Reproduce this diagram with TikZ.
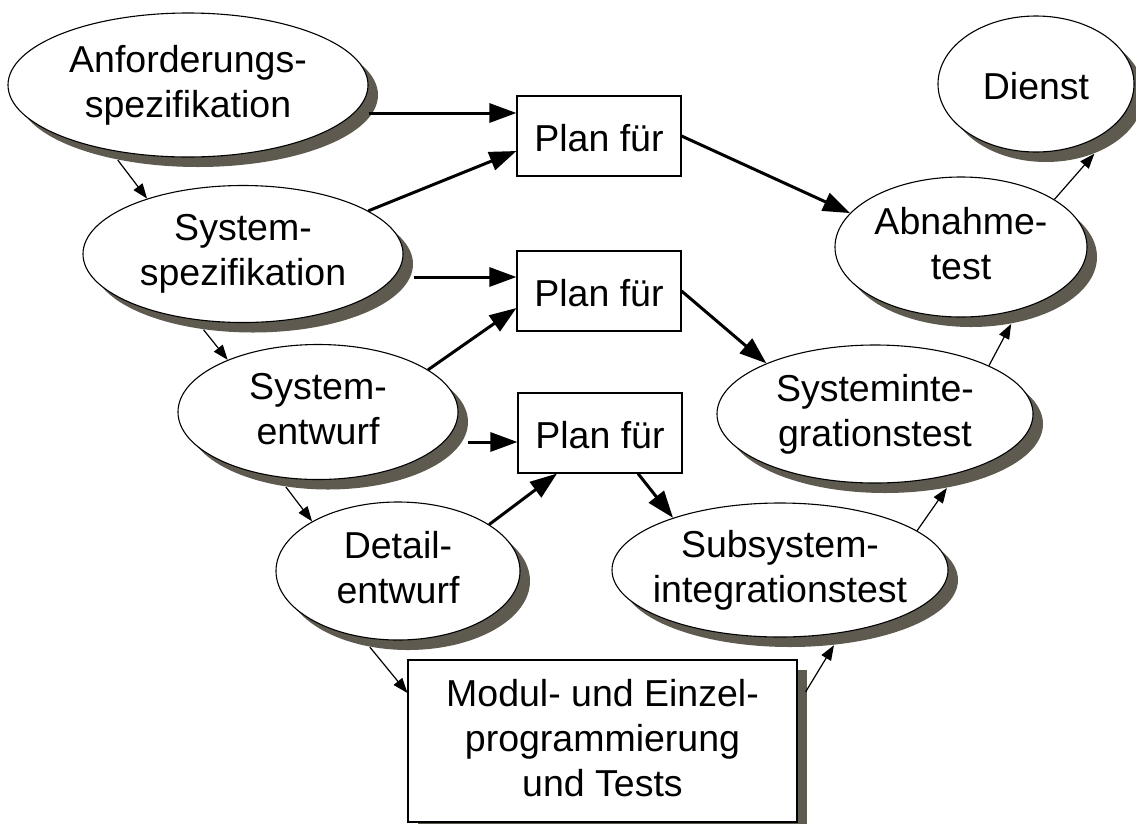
\documentclass[tikz,border=0pt]{standalone}
\usepackage{fontspec}
\setmainfont{Liberation Sans}
\usetikzlibrary{shapes.geometric,shadows,arrows.meta}
\definecolor{shadowc}{RGB}{95,90,80}
\newcommand\lnstrut{\rule[-7pt]{0pt}{45pt}}
\begin{document}
\begin{tikzpicture}[x=1pt,y=-1pt,
  lbl/.style={font=\fontsize{37.5}{45}\selectfont, align=center,
    execute at begin node=\lnstrut, execute at end node=\lnstrut},
  shad/.style={drop shadow={shadow xshift=10pt, shadow yshift=-10pt, fill=shadowc, opacity=1}},
  oval/.style={lbl, ellipse, draw, line width=1.1pt, fill=white,
    inner xsep=-80pt, inner ysep=-40pt, shad},
  plan/.style={lbl, rectangle, draw, line width=1.1pt, fill=white,
    minimum width=164pt, minimum height=80pt, inner sep=0pt},
  modbox/.style={lbl, rectangle, draw, line width=1.1pt, fill=white,
    minimum width=389pt, minimum height=162pt, inner sep=0pt, shad},
  thinarr/.style={line width=1.2pt, -{Triangle[length=15pt,width=11pt]}},
  thickarr/.style={line width=3pt, -{Triangle[length=27pt,width=19pt]}}
]
\useasboundingbox (0,0) rectangle (1136,823);

\node[oval, minimum width=360pt, minimum height=144pt] (anf) at (188,85) {Anforderungs-\\spezifikation};
\node[oval, minimum width=320pt, minimum height=137pt] (sysspec) at (243,254) {System-\\spezifikation};
\node[oval, minimum width=280pt, minimum height=135pt] (sysent) at (318,412) {System-\\entwurf};
\node[oval, minimum width=244pt, minimum height=138pt] (detail) at (398,571) {Detail-\\entwurf};
\node[modbox] (modul) at (602.5,741) {Modul- und Einzel-\\programmierung\\und Tests};
\node[oval, minimum width=336pt, minimum height=134pt] (sub) at (780,570) {Subsystem-\\integrationstest};
\node[oval, minimum width=316pt, minimum height=138pt] (sysint) at (875,414) {Systeminte-\\grationstest};
\node[oval, minimum width=252pt, minimum height=140pt] (abn) at (961,247) {Abnahme-\\test};
\node[oval, minimum width=196pt, minimum height=136pt] (dienst) at (1036,84) {Dienst};

\node[plan] (plan1) at (599,136) {Plan für};
\node[plan] (plan2) at (599,291) {Plan für};
\node[plan] (plan3) at (600,433) {Plan für};

% thin arrows (sequence)
\draw[thinarr] ([shift={(10pt,-10pt)}]anf.-141) -- (sysspec.150);
\draw[thinarr] ([shift={(10pt,-10pt)}]sysspec.-127) -- (sysent.150);
\draw[thinarr] ([shift={(10pt,-10pt)}]sysent.-123) -- (detail.150);
\draw[thinarr] ([shift={(10pt,-10pt)}]detail.-120) -- ([yshift=48pt]modul.west);
\draw[thinarr] ([shift={(8pt,49pt)}]modul.east) -- ([shift={(10pt,-10pt)}]sub.-56);
\draw[thinarr] (sub.16) -- ([shift={(10pt,-10pt)}]sysint.-46);
\draw[thinarr] (sysint.23) -- ([shift={(10pt,-10pt)}]abn.-59);
\draw[thinarr] (abn.27) -- ([shift={(10pt,-10pt)}]dienst.-51);

% thick arrows (plans)
\draw[thickarr] ([yshift=-28pt]anf.east) -- ([yshift=23pt]plan1.west);
\draw[thickarr] (sysspec.19) -- ([yshift=-15pt]plan1.west);
\draw[thickarr] (plan1.east) -- (abn.163);
\draw[thickarr] ([shift={(10pt,-23pt)}]sysspec.east) -- ([yshift=14pt]plan2.west);
\draw[thickarr] (sysent.21) -- ([yshift=-17pt]plan2.west);
\draw[thickarr] (plan2.east) -- (sysint.155);
\draw[thickarr] ([shift={(9pt,-30pt)}]sysent.east) -- ([yshift=-9pt]plan3.west);
\draw[thickarr] (detail.27) -- ([xshift=-43pt]plan3.south);
\draw[thickarr] ([xshift=38pt]plan3.south) -- (sub.154);
\end{tikzpicture}
\end{document}
